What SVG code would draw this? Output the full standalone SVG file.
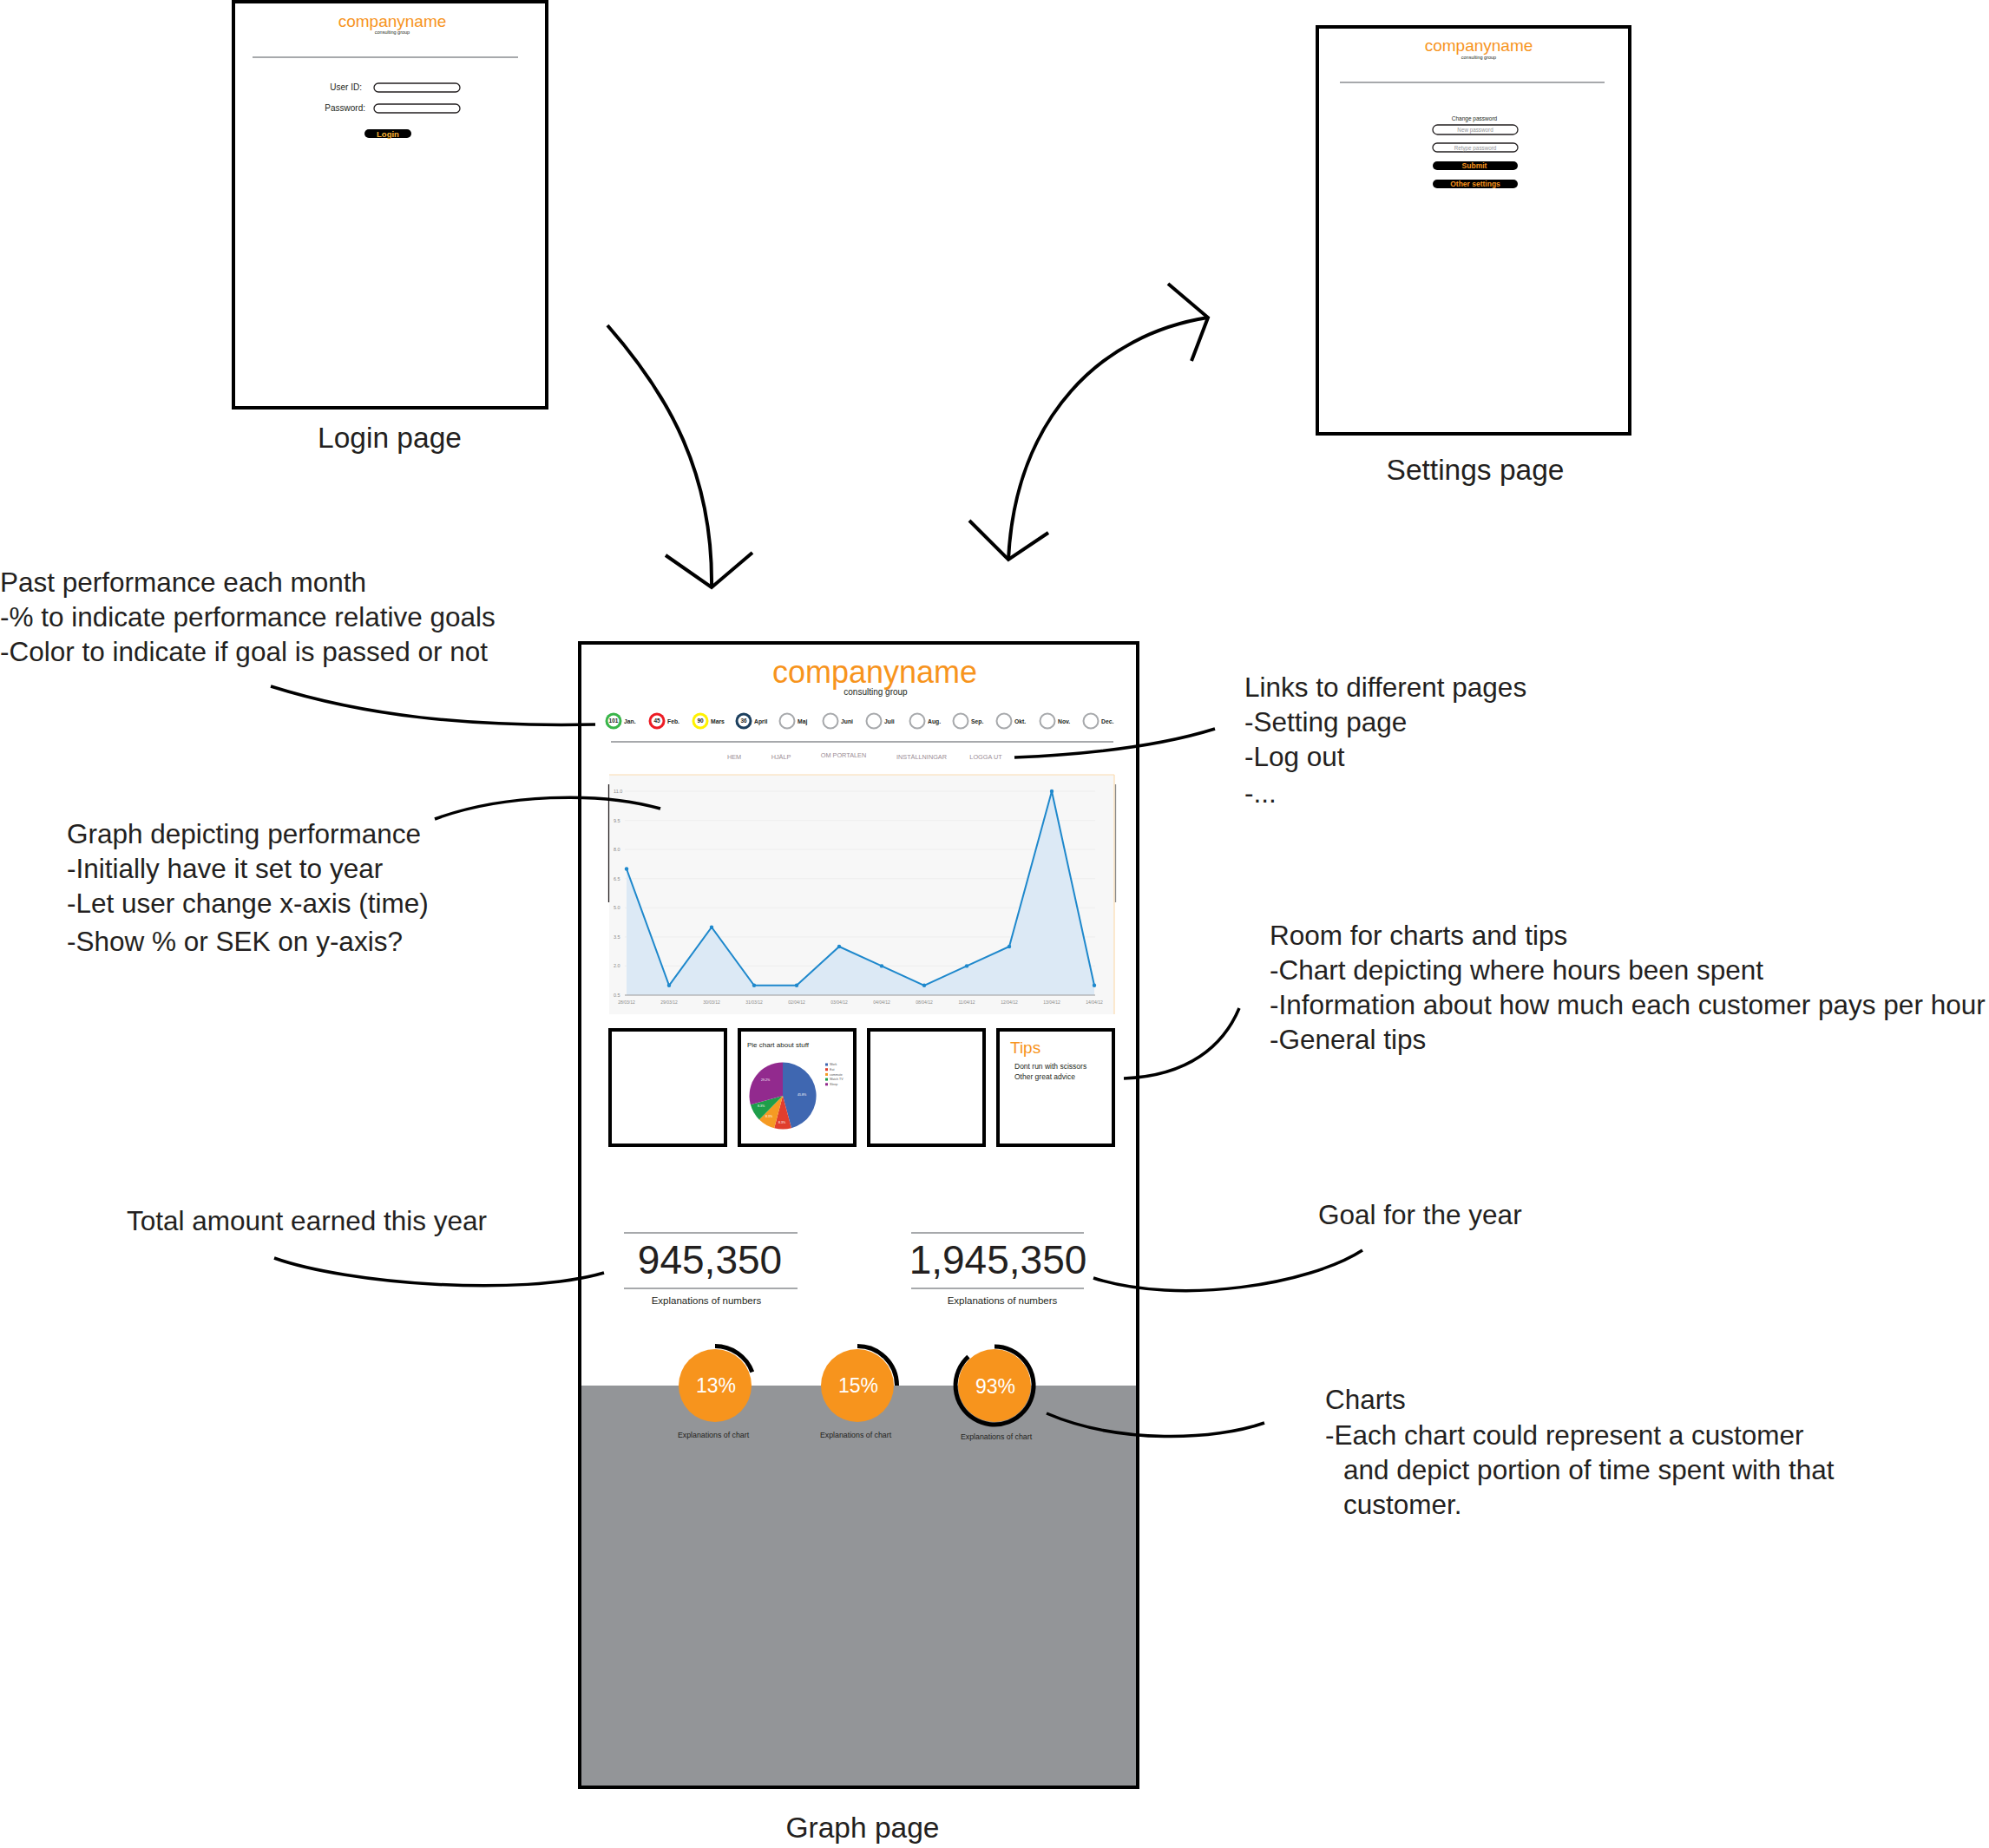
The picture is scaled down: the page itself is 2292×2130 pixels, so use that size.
<svg xmlns="http://www.w3.org/2000/svg" width="2292" height="2130" viewBox="0 0 2292 2130">
<style>
text{font-family:"Liberation Sans",Arial,sans-serif;fill:#231f20}
.frame{fill:#fff;stroke:#000;stroke-width:4}
.note{font-size:31.5px}
.label{font-size:33.5px;text-anchor:middle}
.orange{fill:#f7941d}
.c{text-anchor:middle}
.hr{stroke:#a7a9ac;stroke-width:2;fill:none}
.field{fill:#fff;stroke:#231f20;stroke-width:1.3}
.btn{fill:#000}
.conn{fill:none;stroke:#000;stroke-width:4;stroke-linecap:butt}
.lead{fill:none;stroke:#000;stroke-width:3.5}
.mempty{fill:#fff;stroke:#a7a9ac;stroke-width:2}
.mlab{font-size:6.8px;font-weight:bold}
.mnum{font-size:6.5px;font-weight:bold;text-anchor:middle}
.nav{font-size:7.3px;fill:#9a8c94;text-anchor:middle}
.ylab{font-size:5.5px;fill:#8a8a8a}
.xlab{font-size:5px;fill:#8a8a8a;text-anchor:middle}
.box{fill:#fff;stroke:#000;stroke-width:4}
.disc{fill:#f7941d}
.arc{fill:none;stroke:#000;stroke-width:5}
.pct{font-size:23px;fill:#fff;text-anchor:middle}
.expl{font-size:8.8px;text-anchor:middle}
.leg{font-size:3.6px;fill:#555}
.pl{font-size:3.6px;fill:#fff;text-anchor:middle}
</style>

<!-- Login page -->
<g id="login-page">
  <rect class="frame" x="269" y="2" width="361" height="468"/>
  <text class="orange c" x="452" y="31" font-size="19">companyname</text>
  <text class="c" x="452" y="39" font-size="5.5">consulting group</text>
  <line class="hr" x1="291" y1="66" x2="597" y2="66"/>
  <text x="417" y="104" font-size="10" text-anchor="end">User ID:</text>
  <rect class="field" x="431" y="96" width="99" height="10" rx="5"/>
  <text x="421" y="128" font-size="10" text-anchor="end">Password:</text>
  <rect class="field" x="431" y="120" width="99" height="10" rx="5"/>
  <rect class="btn" x="420" y="149" width="54" height="10" rx="5"/>
  <text class="c" x="447" y="157.5" font-size="9.5" font-weight="bold" style="fill:#f9b233">Login</text>
  <text class="label" x="449" y="516">Login page</text>
</g>

<!-- Settings page -->
<g id="settings-page">
  <rect class="frame" x="1518" y="31" width="360" height="469"/>
  <text class="orange c" x="1704" y="59" font-size="19">companyname</text>
  <text class="c" x="1704" y="67.5" font-size="5.5">consulting group</text>
  <line class="hr" x1="1544" y1="95" x2="1849" y2="95"/>
  <text class="c" x="1699" y="139" font-size="6.5">Change password</text>
  <rect class="field" x="1651" y="144" width="98" height="11" rx="5.5"/>
  <text class="c" x="1700" y="151.5" font-size="6.3" style="fill:#939598">New password</text>
  <rect class="field" x="1651" y="165" width="98" height="10" rx="5"/>
  <text class="c" x="1700" y="172.5" font-size="6.3" style="fill:#939598">Retype password</text>
  <rect class="btn" x="1651" y="186" width="98" height="10" rx="5"/>
  <text class="orange c" x="1699" y="194.2" font-size="8.5" font-weight="bold">Submit</text>
  <rect class="btn" x="1651" y="207" width="98" height="10" rx="5"/>
  <text class="orange c" x="1700" y="215.2" font-size="8.5" font-weight="bold">Other settings</text>
  <text class="label" x="1700" y="553">Settings page</text>
</g>

<!-- Graph page -->
<g id="graph-page">
  <rect class="frame" x="668" y="741" width="643" height="1319"/>
  <rect x="670" y="1597" width="639" height="461" fill="#939598"/>
  <text class="orange c" x="1008" y="787" font-size="36">companyname</text>
  <text class="c" x="1009" y="801" font-size="10">consulting group</text>

  <g id="months">
    <circle cx="707" cy="831" r="9.5" fill="#39b54a"/><circle cx="707" cy="831" r="6.5" fill="#fff"/>
    <text class="mnum" x="707" y="833.3">101</text>
    <text class="mlab" x="719" y="834">Jan.</text>
    <circle cx="757" cy="831" r="9.5" fill="#ed1c24"/><circle cx="757" cy="831" r="6.5" fill="#fff"/>
    <text class="mnum" x="757" y="833.3">45</text>
    <text class="mlab" x="769" y="834">Feb.</text>
    <circle cx="807" cy="831" r="9.5" fill="#fff200"/><circle cx="807" cy="831" r="6.5" fill="#fff"/>
    <text class="mnum" x="807" y="833.3">90</text>
    <text class="mlab" x="819" y="834">Mars</text>
    <circle cx="857" cy="831" r="9.5" fill="#1c3f5e"/><circle cx="857" cy="831" r="6.5" fill="#fff"/>
    <text class="mnum" x="857" y="833.3">36</text>
    <text class="mlab" x="869" y="834">April</text>
    <circle class="mempty" cx="907" cy="831" r="8.5"/><text class="mlab" x="919" y="834">Maj</text>
    <circle class="mempty" cx="957" cy="831" r="8.5"/><text class="mlab" x="969" y="834">Juni</text>
    <circle class="mempty" cx="1007" cy="831" r="8.5"/><text class="mlab" x="1019" y="834">Juli</text>
    <circle class="mempty" cx="1057" cy="831" r="8.5"/><text class="mlab" x="1069" y="834">Aug.</text>
    <circle class="mempty" cx="1107" cy="831" r="8.5"/><text class="mlab" x="1119" y="834">Sep.</text>
    <circle class="mempty" cx="1157" cy="831" r="8.5"/><text class="mlab" x="1169" y="834">Okt.</text>
    <circle class="mempty" cx="1207" cy="831" r="8.5"/><text class="mlab" x="1219" y="834">Nov.</text>
    <circle class="mempty" cx="1257" cy="831" r="8.5"/><text class="mlab" x="1269" y="834">Dec.</text>
  </g>

  <line class="hr" x1="704" y1="855" x2="1283" y2="855"/>
  <g id="nav">
    <text class="nav" x="846" y="875">HEM</text>
    <text class="nav" x="900" y="875">HJÄLP</text>
    <text class="nav" x="972" y="873">OM PORTALEN</text>
    <text class="nav" x="1062" y="875">INSTÄLLNINGAR</text>
    <text class="nav" x="1136" y="875">LOGGA UT</text>
  </g>

  <g id="line-chart">
    <rect x="702" y="893" width="582" height="276" fill="#f7f7f7"/>
    <line x1="702" y1="893" x2="1284" y2="893" stroke="#fcdcb0" stroke-width="1.2"/>
    <line x1="1284" y1="893" x2="1284" y2="1169" stroke="#fcdcb0" stroke-width="1.2"/>
    <line x1="701.5" y1="904" x2="701.5" y2="1040" stroke="#231f20" stroke-width="1.3"/>
    <line x1="1285.5" y1="904" x2="1285.5" y2="1040" stroke="#8a8a8a" stroke-width="1.3"/>
    <g stroke="#ececec" stroke-width="0.8">
      <line x1="720" y1="912" x2="1262" y2="912"/>
      <line x1="720" y1="945.6" x2="1262" y2="945.6"/>
      <line x1="720" y1="979.1" x2="1262" y2="979.1"/>
      <line x1="720" y1="1012.7" x2="1262" y2="1012.7"/>
      <line x1="720" y1="1046.3" x2="1262" y2="1046.3"/>
      <line x1="720" y1="1079.9" x2="1262" y2="1079.9"/>
      <line x1="720" y1="1113.4" x2="1262" y2="1113.4"/>
    </g>
    <text class="ylab" x="707" y="914">11.0</text>
    <text class="ylab" x="707" y="947.6">9.5</text>
    <text class="ylab" x="707" y="981.1">8.0</text>
    <text class="ylab" x="707" y="1014.7">6.5</text>
    <text class="ylab" x="707" y="1048.3">5.0</text>
    <text class="ylab" x="707" y="1081.9">3.5</text>
    <text class="ylab" x="707" y="1115.4">2.0</text>
    <text class="ylab" x="707" y="1149">0.5</text>
    <path d="M722,1001.5 L771,1135.8 L820,1068.7 L869,1135.8 L918,1135.8 L967,1091 L1016,1113.4 L1065,1135.8 L1114,1113.4 L1163,1091 L1212,912 L1261,1135.8 L1261,1147 L722,1147 Z" fill="#dce9f5"/>
    <line x1="720" y1="1147" x2="1262" y2="1147" stroke="#9a9a9a" stroke-width="1"/>
    <path d="M722,1001.5 L771,1135.8 L820,1068.7 L869,1135.8 L918,1135.8 L967,1091 L1016,1113.4 L1065,1135.8 L1114,1113.4 L1163,1091 L1212,912 L1261,1135.8" fill="none" stroke="#1e88cc" stroke-width="2"/>
    <g fill="#1e88cc">
      <circle cx="722" cy="1001.5" r="2.2"/><circle cx="771" cy="1135.8" r="2.2"/><circle cx="820" cy="1068.7" r="2.2"/>
      <circle cx="869" cy="1135.8" r="2.2"/><circle cx="918" cy="1135.8" r="2.2"/><circle cx="967" cy="1091" r="2.2"/>
      <circle cx="1016" cy="1113.4" r="2.2"/><circle cx="1065" cy="1135.8" r="2.2"/><circle cx="1114" cy="1113.4" r="2.2"/>
      <circle cx="1163" cy="1091" r="2.2"/><circle cx="1212" cy="912" r="2.2"/><circle cx="1261" cy="1135.8" r="2.2"/>
    </g>
    <text class="xlab" x="722" y="1157">28/03/12</text>
    <text class="xlab" x="771" y="1157">29/03/12</text>
    <text class="xlab" x="820" y="1157">30/03/12</text>
    <text class="xlab" x="869" y="1157">31/03/12</text>
    <text class="xlab" x="918" y="1157">02/04/12</text>
    <text class="xlab" x="967" y="1157">03/04/12</text>
    <text class="xlab" x="1016" y="1157">04/04/12</text>
    <text class="xlab" x="1065" y="1157">08/04/12</text>
    <text class="xlab" x="1114" y="1157">11/04/12</text>
    <text class="xlab" x="1163" y="1157">12/04/12</text>
    <text class="xlab" x="1212" y="1157">13/04/12</text>
    <text class="xlab" x="1261" y="1157">14/04/12</text>
  </g>

  <g id="box-1"><rect class="box" x="703" y="1187" width="133" height="133"/></g>
  <g id="box-pie">
    <rect class="box" x="852" y="1187" width="133" height="133"/>
    <text x="861" y="1207" font-size="8">Pie chart about stuff</text>
    <path d="M902,1263 L902,1224.5 A38.5,38.5 0 0 1 912.0,1300.2 Z" fill="#3f67b1"/>
    <path d="M902,1263 L912.0,1300.2 A38.5,38.5 0 0 1 892.2,1300.2 Z" fill="#e03e2d"/>
    <path d="M902,1263 L892.2,1300.2 A38.5,38.5 0 0 1 874.9,1290.4 Z" fill="#f59a23"/>
    <path d="M902,1263 L874.9,1290.4 A38.5,38.5 0 0 1 864.9,1273.3 Z" fill="#1e9e4a"/>
    <path d="M902,1263 L864.9,1273.3 A38.5,38.5 0 0 1 902,1224.5 Z" fill="#922a8e"/>
    <text class="pl" x="924" y="1263">45.8%</text>
    <text class="pl" x="901" y="1295">8.3%</text>
    <text class="pl" x="886" y="1288">8.3%</text>
    <text class="pl" x="877" y="1276">8.3%</text>
    <text class="pl" x="882" y="1246">29.2%</text>
    <rect x="951" y="1225.5" width="3" height="3" fill="#3f67b1"/><text class="leg" x="956" y="1228.3">Work</text>
    <rect x="951" y="1231.2" width="3" height="3" fill="#e03e2d"/><text class="leg" x="956" y="1234">Eat</text>
    <rect x="951" y="1236.9" width="3" height="3" fill="#f59a23"/><text class="leg" x="956" y="1239.7">commute</text>
    <rect x="951" y="1242.6" width="3" height="3" fill="#1e9e4a"/><text class="leg" x="956" y="1245.4">Watch TV</text>
    <rect x="951" y="1248.3" width="3" height="3" fill="#922a8e"/><text class="leg" x="956" y="1251.1">Sleep</text>
  </g>
  <g id="box-3"><rect class="box" x="1001" y="1187" width="133" height="133"/></g>
  <g id="box-tips">
    <rect class="box" x="1150" y="1187" width="133" height="133"/>
    <text class="orange" x="1164" y="1214" font-size="19">Tips</text>
    <text x="1169" y="1232" font-size="8.5">Dont run with scissors</text>
    <text x="1169" y="1244" font-size="8.5">Other great advice</text>
  </g>

  <g id="total-earned">
    <line class="hr" x1="719" y1="1421" x2="919" y2="1421"/>
    <text class="c" x="818" y="1468" font-size="46">945,350</text>
    <line class="hr" x1="719" y1="1485" x2="919" y2="1485"/>
    <text class="c" x="814" y="1503" font-size="11.5">Explanations of numbers</text>
  </g>
  <g id="goal">
    <line class="hr" x1="1050" y1="1421" x2="1249" y2="1421"/>
    <text class="c" x="1150" y="1468" font-size="46">1,945,350</text>
    <line class="hr" x1="1050" y1="1485" x2="1249" y2="1485"/>
    <text class="c" x="1155" y="1503" font-size="11.5">Explanations of numbers</text>
  </g>

  <g id="chart-13">
    <circle class="disc" cx="824" cy="1597" r="42"/>
    <path class="arc" d="M824,1551.5 A45.5,45.5 0 0 1 866.8,1581.4"/>
    <text class="pct" x="825" y="1605">13%</text>
    <text class="expl" x="822" y="1657">Explanations of chart</text>
  </g>
  <g id="chart-15">
    <circle class="disc" cx="988" cy="1597" r="42"/>
    <path class="arc" d="M988,1551.5 A45.5,45.5 0 0 1 1033.5,1597"/>
    <text class="pct" x="989" y="1605">15%</text>
    <text class="expl" x="986" y="1657">Explanations of chart</text>
  </g>
  <g id="chart-93">
    <circle class="disc" cx="1146" cy="1597" r="42"/>
    <path class="arc" d="M1146,1552 A45,45 0 1 1 1115.9,1563.6"/>
    <text class="pct" x="1147" y="1606">93%</text>
    <text class="expl" x="1148" y="1659">Explanations of chart</text>
  </g>

  <text class="label" x="994" y="2118">Graph page</text>
</g>

<!-- Annotations -->
<g id="note-months">
  <text class="note" x="0" y="682">Past performance each month</text>
  <text class="note" x="0" y="722">-% to indicate performance relative goals</text>
  <text class="note" x="0" y="762">-Color to indicate if goal is passed or not</text>
</g>
<g id="note-graph">
  <text class="note" x="77" y="972">Graph depicting performance</text>
  <text class="note" x="77" y="1012">-Initially have it set to year</text>
  <text class="note" x="77" y="1052">-Let user change x-axis (time)</text>
  <text class="note" x="77" y="1096">-Show % or SEK on y-axis?</text>
</g>
<g id="note-links">
  <text class="note" x="1434" y="803">Links to different pages</text>
  <text class="note" x="1434" y="843">-Setting page</text>
  <text class="note" x="1434" y="883">-Log out</text>
  <text class="note" x="1434" y="925">-...</text>
</g>
<g id="note-room">
  <text class="note" x="1463" y="1089">Room for charts and tips</text>
  <text class="note" x="1463" y="1129">-Chart depicting where hours been spent</text>
  <text class="note" x="1463" y="1169">-Information about how much each customer pays per hour</text>
  <text class="note" x="1463" y="1209">-General tips</text>
</g>
<g id="note-total">
  <text class="note" x="146" y="1418">Total amount earned this year</text>
</g>
<g id="note-goal">
  <text class="note" x="1519" y="1411">Goal for the year</text>
</g>
<g id="note-charts">
  <text class="note" x="1527" y="1624">Charts</text>
  <text class="note" x="1527" y="1665">-Each chart could represent a customer</text>
  <text class="note" x="1548" y="1705">and depict portion of time spent with that</text>
  <text class="note" x="1548" y="1745">customer.</text>
</g>

<!-- Connectors -->
<g id="connectors">
  <path class="conn" d="M700,375 C770,455 822,545 820,678"/>
  <path class="conn" d="M767,640 L820,677 L867,637"/>
  <path class="conn" d="M1162,645 C1170,480 1270,385 1392,366"/>
  <path class="conn" d="M1346,327 L1392,366 L1373,416"/>
  <path class="conn" d="M1117,600 L1162,645 L1208,614"/>
  <path class="lead" d="M312,791 C420,825 540,838 686,835"/>
  <path class="lead" d="M501,944 C580,915 690,912 761,932"/>
  <path class="lead" d="M1400,840 C1330,862 1240,870 1169,873"/>
  <path class="lead" d="M1428,1162 C1410,1205 1370,1240 1295,1243"/>
  <path class="lead" d="M316,1450 C400,1480 600,1495 696,1467"/>
  <path class="lead" d="M1570,1441 C1510,1480 1360,1505 1260,1473"/>
  <path class="lead" d="M1457,1640 C1400,1660 1290,1665 1206,1629"/>
</g>
</svg>
